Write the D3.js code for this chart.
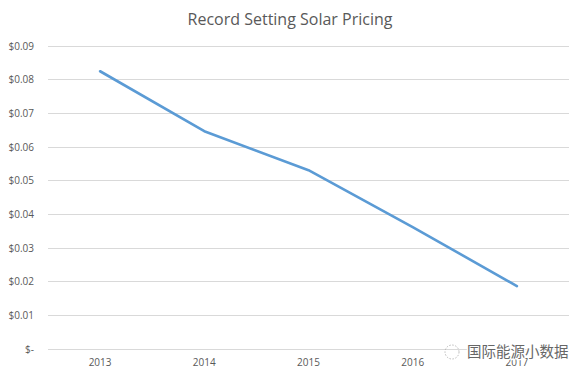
<!DOCTYPE html>
<html>
<head>
<meta charset="utf-8">
<script src="https://cdn.jsdelivr.net/npm/d3@7"></script>
<style>
  body { margin: 0; background: #fff; }
  text { font-family: "Open Sans", "Liberation Sans", sans-serif; }
</style>
</head>
<body>
<div id="chart"></div>
<script>
const years = ["2013", "2014", "2015", "2016", "2017"];
const prices = [0.0825, 0.0647, 0.0531, 0.0362, 0.0187];
const yTicks = [0, 0.01, 0.02, 0.03, 0.04, 0.05, 0.06, 0.07, 0.08, 0.09];

const width = 583, height = 378;
const margin = { top: 46, right: 14, bottom: 29, left: 48 };

const svg = d3.select("#chart").append("svg")
  .attr("width", width).attr("height", height);

const x = d3.scaleBand()
  .domain(years)
  .range([margin.left, width - margin.right]);

const y = d3.scaleLinear()
  .domain([0, 0.09])
  .range([height - margin.bottom, margin.top]);

// gridlines
svg.append("g")
  .selectAll("line")
  .data(yTicks)
  .enter().append("line")
  .attr("x1", margin.left).attr("x2", width - margin.right)
  .attr("y1", d => y(d)).attr("y2", d => y(d))
  .attr("stroke", "#d9d9d9").attr("stroke-width", 1)
  .attr("shape-rendering", "crispEdges");

// y labels
svg.append("g")
  .selectAll("text")
  .data(yTicks)
  .enter().append("text")
  .attr("x", 34)
  .attr("y", d => y(d) + 3.5)
  .attr("text-anchor", "end")
  .style("font-size", "10px")
  .attr("fill", "#595959")
  .text(d => d === 0 ? "$-  " : "$" + d.toFixed(2));

// x labels
svg.append("g")
  .selectAll("text")
  .data(years)
  .enter().append("text")
  .attr("x", d => x(d) + x.bandwidth() / 2)
  .attr("y", height - margin.bottom + 17)
  .attr("text-anchor", "middle")
  .style("font-size", "10px")
  .attr("fill", "#595959")
  .text(d => d);

// line
const line = d3.line()
  .x((d, i) => x(years[i]) + x.bandwidth() / 2)
  .y(d => y(d));

svg.append("path")
  .datum(prices)
  .attr("d", line)
  .attr("fill", "none")
  .attr("stroke", "#5b9bd5")
  .attr("stroke-width", 2.6)
  .attr("stroke-linejoin", "round")
  .attr("stroke-linecap", "round");

// title
svg.append("text")
  .attr("x", 290).attr("y", 25)
  .attr("text-anchor", "middle")
  .style("font-size", "16px")
  .attr("fill", "#595959")
  .text("Record Setting Solar Pricing");

// watermark (sits over the last year label, as in the source image)
const wm = svg.append("g").attr("transform", "translate(440,352)");
wm.append("circle").attr("cx", 12).attr("cy", 0).attr("r", 7)
  .attr("fill", "none").attr("stroke", "#aaa").attr("stroke-width", 0.8)
  .attr("stroke-dasharray", "1.5,1.5");
wm.append("text")
  .attr("x", 27).attr("y", 5)
  .style("font-family", "'Noto Sans CJK SC', sans-serif")
  .style("font-size", "14.5px")
  .attr("fill", "#666")
  .attr("stroke", "#fff").attr("stroke-width", 2.5)
  .attr("paint-order", "stroke")
  .text("国际能源小数据");
</script>
</body>
</html>
